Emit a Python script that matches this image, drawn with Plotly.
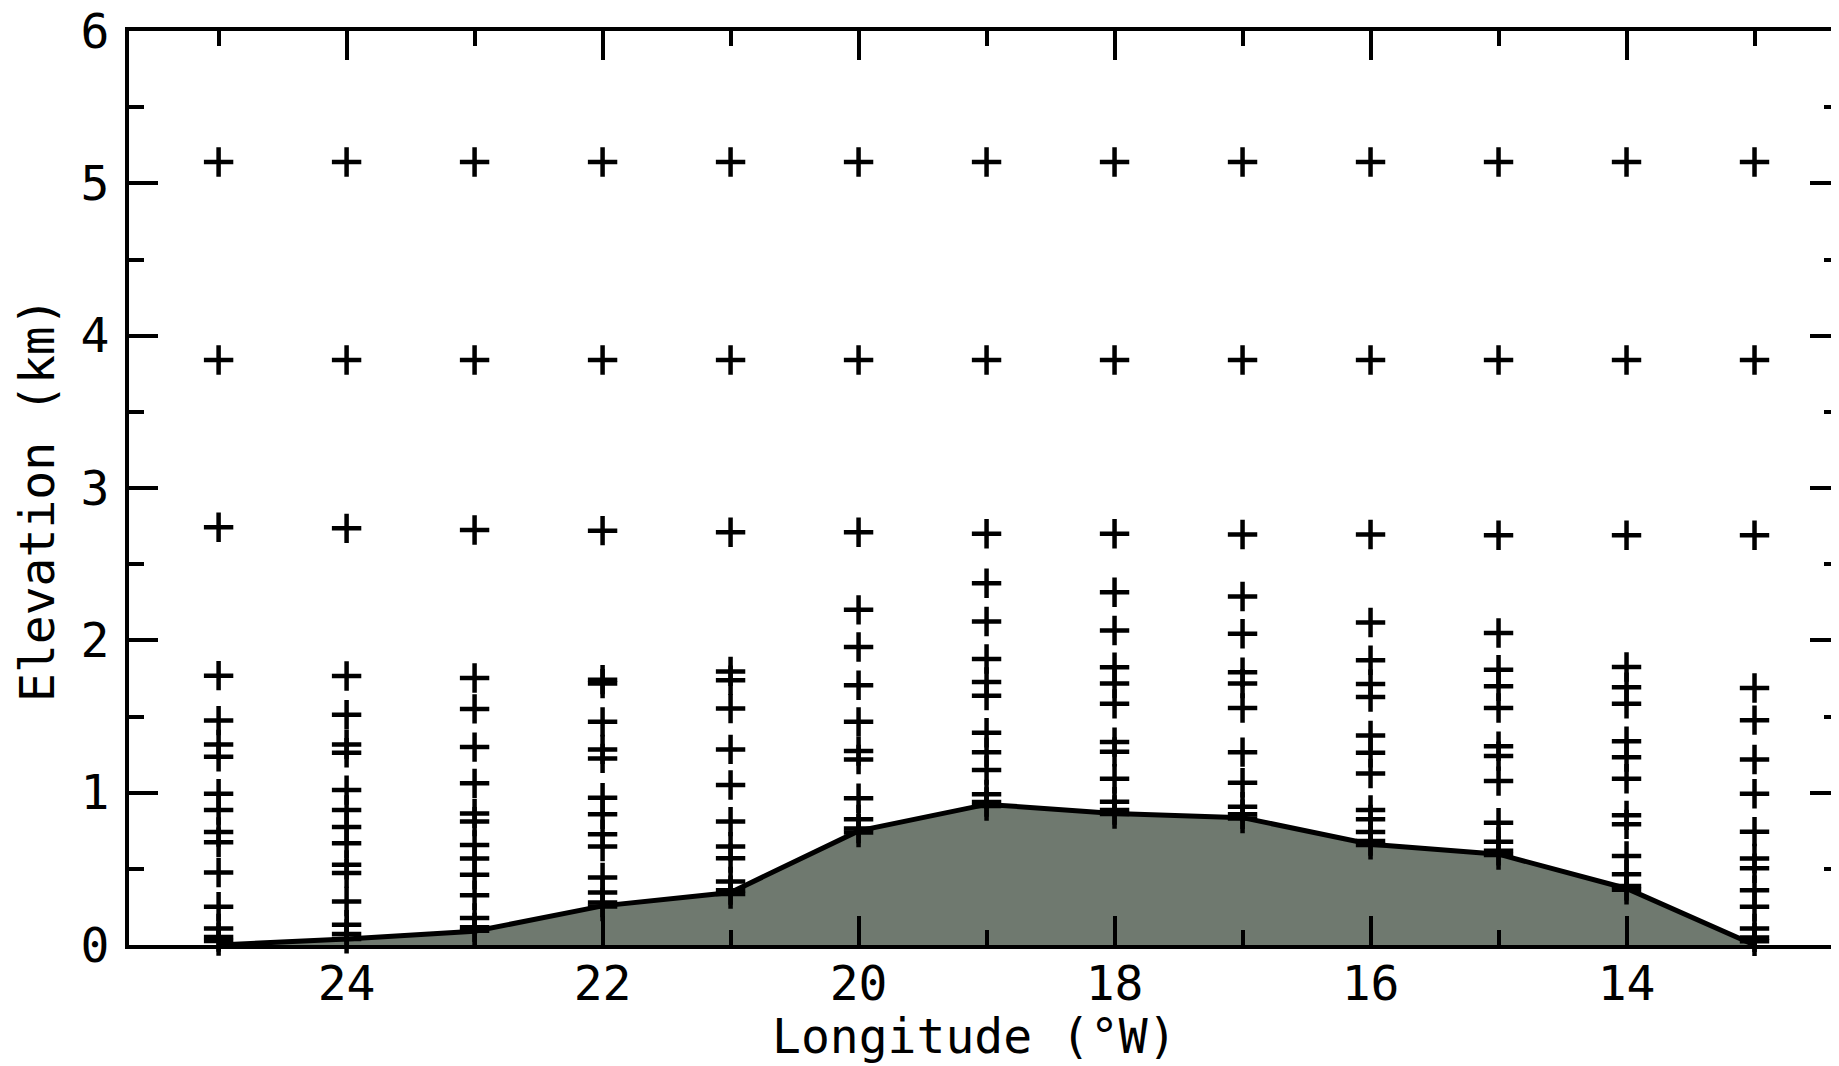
import plotly.graph_objects as go

# Longitudes (degrees W) of the model columns
lons = [25, 24, 23, 22, 21, 20, 19, 18, 17, 16, 15, 14, 13]

# Terrain elevation (km) along the section
terrain = [0.0, 0.04, 0.09, 0.257, 0.345, 0.749, 0.923, 0.864, 0.836, 0.661, 0.596, 0.371, 0.0]

# Model level heights (km) in each column
lev_25 = [5.14, 3.84, 2.742, 1.768, 1.473, 1.316, 1.236, 0.993, 0.886, 0.742, 0.675, 0.476, 0.251, 0.109, 0.052, 0.026]
lev_24 = [5.14, 3.84, 2.735, 1.766, 1.511, 1.316, 1.262, 1.017, 0.886, 0.775, 0.668, 0.526, 0.472, 0.286, 0.133, 0.072, 0.040]
lev_23 = [5.14, 3.84, 2.724, 1.753, 1.550, 1.299, 1.061, 0.864, 0.810, 0.657, 0.568, 0.461, 0.327, 0.177, 0.116, 0.094]
lev_22 = [5.14, 3.84, 2.720, 1.742, 1.716, 1.465, 1.284, 1.225, 0.967, 0.858, 0.727, 0.646, 0.443, 0.345, 0.279, 0.253]
lev_21 = [5.14, 3.84, 2.710, 1.796, 1.738, 1.552, 1.284, 1.050, 0.810, 0.646, 0.570, 0.417, 0.360, 0.334]
lev_20 = [5.14, 3.84, 2.710, 2.200, 1.956, 1.705, 1.465, 1.273, 1.218, 0.963, 0.825, 0.764, 0.738]
lev_19 = [5.14, 3.84, 2.700, 2.375, 2.124, 1.877, 1.727, 1.637, 1.393, 1.266, 1.148, 0.989, 0.939, 0.912]
lev_18 = [5.14, 3.84, 2.700, 2.316, 2.065, 1.823, 1.716, 1.583, 1.332, 1.268, 1.091, 0.941, 0.886, 0.860]
lev_17 = [5.14, 3.84, 2.695, 2.288, 2.043, 1.790, 1.716, 1.556, 1.266, 1.065, 0.908, 0.858, 0.830]
lev_16 = [5.14, 3.84, 2.695, 2.117, 1.869, 1.714, 1.628, 1.375, 1.262, 1.126, 0.886, 0.825, 0.742, 0.683, 0.657]
lev_15 = [5.14, 3.84, 2.690, 2.048, 1.807, 1.698, 1.556, 1.305, 1.240, 1.076, 0.803, 0.677, 0.618, 0.591]
lev_14 = [5.14, 3.84, 2.690, 1.825, 1.692, 1.583, 1.338, 1.233, 1.091, 0.851, 0.792, 0.585, 0.465, 0.388, 0.362]
lev_13 = [5.14, 3.84, 2.690, 1.687, 1.476, 1.218, 0.993, 0.744, 0.568, 0.504, 0.360, 0.251, 0.109, 0.050, 0.024]

levels = [lev_25, lev_24, lev_23, lev_22, lev_21, lev_20, lev_19,
          lev_18, lev_17, lev_16, lev_15, lev_14, lev_13]

x_title = "Longitude (°W)"
y_title = "Elevation (km)"

pts_x, pts_y = [], []
for lon, lev in zip(lons, levels):
    pts_x.extend([lon] * len(lev))
    pts_y.extend(lev)

FONT = "DejaVu Sans Mono"
FSIZE = 48

fig = go.Figure()
fig.add_trace(go.Scatter(
    x=lons, y=terrain, mode="lines", fill="tozeroy",
    fillcolor="rgb(111,121,111)",
    line=dict(color="black", width=5),
    hoverinfo="skip", showlegend=False,
))
fig.add_trace(go.Scatter(
    x=pts_x, y=pts_y, mode="markers",
    marker=dict(symbol="cross-thin", size=21, color="black",
                line=dict(color="black", width=4.5)),
    cliponaxis=False, showlegend=False,
))

common = dict(
    showline=True, linecolor="black", linewidth=4, mirror="allticks",
    ticks="inside", ticklen=29, tickwidth=4, tickcolor="black",
    showgrid=False, zeroline=False, automargin=False,
    ticklabeloverflow="allow",
    tickfont=dict(family=FONT, size=FSIZE, color="black"),
)

fig.update_layout(
    width=1831, height=1058,
    margin=dict(l=121, r=0, t=23, b=121, pad=0),
    paper_bgcolor="white", plot_bgcolor="white",
    showlegend=False,
    xaxis=dict(
        range=[25.70, 12.34], tickmode="linear", tick0=0, dtick=2,
        minor=dict(dtick=1, ticks="inside", ticklen=15, tickwidth=4,
                   tickcolor="black", showgrid=False),
        ticklabelstandoff=-7,
        **common,
    ),
    yaxis=dict(
        range=[0, 6], tickmode="linear", tick0=0, dtick=1,
        minor=dict(dtick=0.5, ticks="inside", ticklen=15, tickwidth=4,
                   tickcolor="black", showgrid=False),
        ticklabelstandoff=6,
        **common,
    ),
    annotations=[
        dict(text=x_title, xref="paper", yref="paper", x=0.4942, y=-0.0996,
             xanchor="center", yanchor="middle", showarrow=False,
             font=dict(family=FONT, size=FSIZE, color="black")),
        dict(text=y_title, xref="paper", yref="paper", x=-0.0538, y=0.4869,
             xanchor="center", yanchor="middle", showarrow=False, textangle=-90,
             font=dict(family=FONT, size=FSIZE, color="black")),
    ],
)

fig.write_html("out.html")
